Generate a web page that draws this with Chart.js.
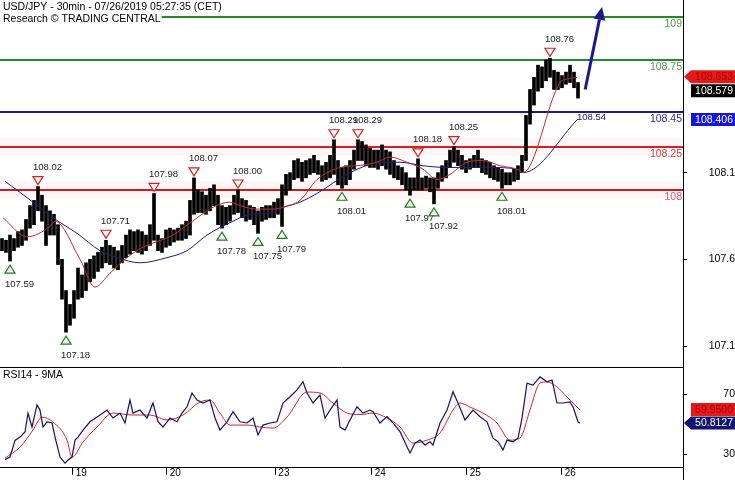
<!DOCTYPE html>
<html><head><meta charset="utf-8">
<script src="https://cdn.jsdelivr.net/npm/chart.js@4.4.0/dist/chart.umd.min.js"></script>
<style>
html,body{margin:0;padding:0;background:#fff;overflow:hidden}
#wrap{position:relative;width:735px;height:480px;background:#fff}
#c1{position:absolute;left:0;top:0}
#c2{position:absolute;left:0;top:367px}
</style></head><body>
<div id="wrap">
<canvas id="c1" width="735" height="367"></canvas>
<canvas id="c2" width="735" height="113"></canvas>
</div>
<script>
const FONT = "'Liberation Sans', Arial, sans-serif";
const titleLine1 = 'USD/JPY - 30min - 07/26/2019 05:27:35 (CET)';
const titleLine2 = 'Research \u00A9 TRADING CENTRAL';
const rsiTitle = 'RSI14 - 9MA';

// price bars (one bar per slot), high / low
const priceHigh = [107.72,107.71,107.74,107.72,107.76,107.77,107.83,107.91,107.94,108.02,
107.97,107.91,107.88,107.86,107.80,107.60,107.42,107.34,107.42,107.55,
107.51,107.58,107.60,107.62,107.64,107.67,107.71,107.68,107.67,107.65,
107.68,107.74,107.77,107.76,107.77,107.76,107.74,107.80,107.98,107.74,
107.72,107.77,107.78,107.77,107.78,107.80,107.82,107.94,108.07,108.00,
107.99,107.97,108.01,108.03,107.97,107.91,107.90,107.91,107.97,108.00,
107.95,107.94,107.91,107.90,107.88,107.90,107.91,107.91,107.93,107.95,
108.03,108.09,108.10,108.17,108.18,108.16,108.17,108.18,108.20,108.17,
108.14,108.16,108.20,108.29,108.17,108.13,108.14,108.17,108.23,108.29,
108.28,108.26,108.24,108.23,108.23,108.26,108.23,108.22,108.17,108.14,
108.13,108.10,108.07,108.07,108.18,108.07,108.08,108.07,108.07,108.10,
108.14,108.17,108.23,108.25,108.23,108.20,108.17,108.18,108.20,108.23,
108.18,108.17,108.16,108.14,108.13,108.12,108.10,108.10,108.12,108.14,
108.20,108.43,108.58,108.65,108.72,108.71,108.75,108.76,108.69,108.68,
108.66,108.68,108.72,108.68,108.62];
const priceLow = [107.65,107.64,107.59,107.65,107.67,107.68,107.71,107.78,107.80,107.88,
107.82,107.68,107.74,107.74,107.57,107.37,107.18,107.22,107.26,107.37,
107.38,107.42,107.47,107.49,107.53,107.55,107.58,107.57,107.55,107.54,
107.58,107.61,107.63,107.65,107.64,107.63,107.65,107.68,107.71,107.65,
107.64,107.67,107.68,107.70,107.71,107.71,107.72,107.74,107.86,107.87,
107.87,107.86,107.88,107.91,107.80,107.78,107.80,107.82,107.86,107.87,
107.84,107.82,107.83,107.80,107.75,107.82,107.83,107.84,107.84,107.86,
107.79,107.97,108.00,108.06,108.07,108.05,108.07,108.09,108.10,108.09,
108.05,108.06,108.07,108.09,108.03,108.01,108.03,108.06,108.12,108.17,
108.17,108.14,108.13,108.13,108.12,108.14,108.12,108.09,108.07,108.06,
108.03,108.00,107.97,108.00,108.00,108.00,108.01,107.99,107.92,108.01,
108.05,108.07,108.13,108.16,108.14,108.12,108.10,108.12,108.13,108.13,
108.10,108.09,108.07,108.06,108.05,108.01,108.03,108.03,108.05,108.06,
108.10,108.17,108.38,108.49,108.57,108.59,108.63,108.65,108.58,108.58,
108.59,108.61,108.62,108.59,108.53];

// moving averages (slot index, value)
const maFastX = [0.25,6.25,12,13.25,19.5,23.25,27,31.25,35.25,42.75,47,52.75,57,59.5,63.75,67.75,70.25,74.5,78.75,84.5,88.75,93.75,97,101.25,105.25,108.75,112,116.25,120.25,124.5,128.75,130.25,139.5,141.25,143.75];
const maFast  = [107.84,107.73,107.79,107.82,107.60,107.44,107.52,107.61,107.67,107.74,107.81,107.90,107.93,107.91,107.89,107.89,107.90,107.94,108.06,108.13,108.14,108.16,108.19,108.16,108.12,108.06,108.09,108.16,108.17,108.14,108.12,108.10,108.62,108.64,108.65];
const maSlowX = [0.75,7.75,12.75,18.75,24.5,28.75,34.5,41.25,46.25,51.25,57.75,62,67.75,70.25,74.5,78.75,87,95.25,99.5,105.25,111.25,122,128.75,130.25,144];
const maSlow  = [108.05,107.93,107.84,107.75,107.65,107.61,107.58,107.61,107.65,107.74,107.82,107.86,107.87,107.90,107.93,107.98,108.10,108.16,108.16,108.14,108.13,108.13,108.12,108.10,108.41];

// RSI 14 and its 9 MA
const rsiX = [0.75,2,3.25,4.5,5.75,6.5,7.5,8.75,9.5,10.25,11.25,12.5,13.25,14.5,15.75,16.5,17.5,18.25,19,20.25,22,24.5,26.25,27.75,29.5,30.75,32,32.75,34.5,36.25,37.75,39,40.25,42,43.75,45,46.25,47.5,48.75,50.25,52,53.25,54.5,56.25,57.75,59.5,61.25,62.75,64,65.25,67,68.75,70.25,72,73.75,75.25,76.25,77.75,79.5,80.75,82,83.75,84.5,85.75,87,88.75,90.25,92,92.75,94.5,96.25,97.75,99.5,101.25,102,103.25,104.5,105.75,107,107.75,109.5,111.25,112.75,114,115.75,117.75,119.5,121.25,122.75,124,125.25,126.25,127.75,129,130,131.25,132.75,134.5,136.25,137.5,138.75,140.25,142,142.75,144,144.5];
const rsi  = [26.5,28.2,39.3,41.5,44.9,57.4,48.2,62.9,59.5,48.2,51.6,50.9,41.5,28.2,24.1,26.2,28.2,39.5,41.5,46.2,51.7,56.2,59.5,54.2,57.5,50.9,66.2,57.5,59.5,54.2,64.2,51.7,48.2,54.2,51.7,57.5,61.7,70.9,66.2,64.2,66.2,54.2,46.2,51.7,58.5,51.7,50.9,54.2,42.9,49.5,50.9,51.7,64.2,68.4,72.9,78.4,70.9,64.2,69.5,54.2,59.5,66.2,48.2,46.2,52.9,61.7,57.5,59.5,58.4,50.9,55.1,50.9,45.1,35.1,30.9,37.5,39.5,36.2,38.4,36.2,50.9,59.5,71.7,64.2,52.9,59.5,55.1,51.7,40.8,38.4,32.9,39.5,38.4,40.8,54.2,77.4,76.1,81.6,78.3,79.5,64.2,64.2,65.0,61.7,51.7,50.8];
const rsiMaX = [0.75,4.5,7.75,10,12.75,16.25,17.5,20.25,23.75,27.75,32.75,37,41.25,45.25,49.5,52,54.5,57,61.25,64.5,67.75,71.25,76.25,79.5,82.75,86.25,89.5,92.75,96.25,99.5,102.75,106.25,109.5,112.75,114.5,117,120.25,123.75,127,129.5,132,134.5,136.25,138.75,141.25,144.5];
const rsiMa  = [27.5,34.8,46.2,54.8,51.5,39.5,28.2,38.2,48.2,57.5,56.2,56.2,52.9,56.2,64.9,66.2,57.5,49.5,49.5,48.2,47.5,54.8,71.5,70.9,64.2,57.5,56.5,57.5,54.2,48.2,37.5,39.5,44.2,59.5,64.2,61.5,57.5,50.9,39.5,40.8,59.5,77.5,78.2,74.9,68.2,59.5];

// horizontal levels
const levels = [109, 108.75, 108.45, 108.25, 108];
const levelLabels = ['109', '108.75', '108.45', '108.25', '108'];
const levelColors = ['#228b22', '#228b22', '#1c1c8c', '#d81e1e', '#c81e1e'];
const levelTextColors = ['#4c9c4c', '#4c9c4c', '#2a2a9a', '#d64040', '#d86070'];
const zoneLevels = [108.25, 108];

// swing markers (slot index, value)
const highMarks = [[9,108.02],[26,107.71],[38,107.98],[48,108.07],[59,108.00],[83,108.29],[89,108.29],[104,108.18],[113,108.25],[137,108.76]];
const lowMarks  = [[2,107.59],[16,107.18],[55,107.78],[64,107.75],[70,107.79],[85,108.01],[102,107.97],[108,107.92],[125,108.01]];

// axes
const dayTickPos = [17.68, 41.18, 68.33, 92.43, 116.18, 139.93];
const dayLabels = ['19', '20', '23', '24', '25', '26'];
const priceTicks = [107.1, 107.6, 108.1];
const rsiTicks = [30, 70];
const X_MIN = -0.5, X_MAX = 170.25;
const P_MIN = 106.979, P_MAX = 109.096;
const R_MIN = 21.1, R_MAX = 88.2;

// last values / tags
const lastPrice = 108.579, fastLast = 108.653, slowLast = 108.406;
const slowEndLabel = '108.54';
const rsiLast = 50.8127, rsiMaLast = 59.95;
const arrowPath = [[145.8, 108.58], [150, 109.056]];

function drawTag(ctx, yc, text, bg, fg, pointer) {
  const h = 13, x0 = 691, x1 = 735;
  ctx.save();
  ctx.fillStyle = bg;
  ctx.beginPath();
  if (pointer) { ctx.moveTo(684, yc); ctx.lineTo(x0, yc - h / 2); }
  else ctx.moveTo(x0, yc - h / 2);
  ctx.lineTo(x1, yc - h / 2); ctx.lineTo(x1, yc + h / 2); ctx.lineTo(x0, yc + h / 2);
  ctx.closePath(); ctx.fill();
  ctx.fillStyle = fg; ctx.font = '10.5px ' + FONT;
  ctx.textAlign = 'right'; ctx.textBaseline = 'middle';
  ctx.fillText(text, 733, yc + 0.5);
  ctx.restore();
}

const pricePlugin = {
  id: 'pricePlugin',
  beforeDatasetsDraw(chart) {
    const {ctx, chartArea: a, scales: {y}} = chart;
    ctx.save();
    ctx.fillStyle = 'rgba(235,70,70,0.05)';
    zoneLevels.forEach(v => {
      const y1 = y.getPixelForValue(v + 0.05), y2 = y.getPixelForValue(v - 0.05);
      ctx.fillRect(a.left, y1, a.right - a.left, y2 - y1);
    });
    levels.forEach((v, k) => {
      const py = Math.round(y.getPixelForValue(v));
      ctx.strokeStyle = levelColors[k]; ctx.lineWidth = 2;
      ctx.beginPath(); ctx.moveTo(a.left, py); ctx.lineTo(a.right, py); ctx.stroke();
    });
    ctx.restore();
  },
  afterDatasetsDraw(chart) {
    const {ctx, chartArea: a, scales: {x, y}} = chart;
    ctx.save();
    // level labels
    ctx.font = '10.5px ' + FONT; ctx.textAlign = 'right'; ctx.textBaseline = 'middle';
    levels.forEach((v, k) => {
      ctx.fillStyle = levelTextColors[k];
      ctx.fillText(levelLabels[k], a.right - 1, y.getPixelForValue(v) + 7.5);
    });
    // markers
    ctx.font = '9.5px ' + FONT; ctx.textAlign = 'left';
    ctx.lineWidth = 1.2;
    highMarks.forEach(([i, v]) => {
      const px = x.getPixelForValue(i), py = y.getPixelForValue(v);
      ctx.beginPath(); ctx.moveTo(px - 5, py - 10); ctx.lineTo(px + 5, py - 10); ctx.lineTo(px, py - 2); ctx.closePath();
      ctx.fillStyle = '#fff'; ctx.fill(); ctx.strokeStyle = '#d42020'; ctx.stroke();
      ctx.fillStyle = '#222'; ctx.fillText(v.toFixed(2), px - 5, py - 19);
    });
    lowMarks.forEach(([i, v]) => {
      const px = x.getPixelForValue(i), py = y.getPixelForValue(v);
      ctx.beginPath(); ctx.moveTo(px - 5, py + 12); ctx.lineTo(px + 5, py + 12); ctx.lineTo(px, py + 4); ctx.closePath();
      ctx.fillStyle = '#fff'; ctx.fill(); ctx.strokeStyle = '#1e7e1e'; ctx.stroke();
      ctx.fillStyle = '#222'; ctx.fillText(v.toFixed(2), px - 5, py + 23);
    });
    // slow MA end label
    ctx.fillStyle = '#1a1a6a';
    ctx.fillText(slowEndLabel, x.getPixelForValue(maSlowX[maSlowX.length - 1]) - 1, y.getPixelForValue(maSlow[maSlow.length - 1]) - 2);
    // arrow
    const x0 = x.getPixelForValue(arrowPath[0][0]), y0 = y.getPixelForValue(arrowPath[0][1]);
    const x1 = x.getPixelForValue(arrowPath[1][0]), y1 = y.getPixelForValue(arrowPath[1][1]);
    const ang = Math.atan2(y1 - y0, x1 - x0), L = 13, W = 6;
    const bx = x1 - L * Math.cos(ang), by = y1 - L * Math.sin(ang);
    ctx.strokeStyle = '#1a1a8c'; ctx.fillStyle = '#1a1a8c'; ctx.lineWidth = 3;
    ctx.beginPath(); ctx.moveTo(x0, y0); ctx.lineTo(bx, by); ctx.stroke();
    ctx.beginPath(); ctx.moveTo(x1, y1);
    ctx.lineTo(bx + W * Math.sin(ang), by - W * Math.cos(ang));
    ctx.lineTo(bx - W * Math.sin(ang), by + W * Math.cos(ang));
    ctx.closePath(); ctx.fill();
    ctx.restore();
  },
  afterDraw(chart) {
    const {ctx, scales: {y}} = chart;
    ctx.save();
    ctx.font = '10.5px ' + FONT; ctx.textAlign = 'left'; ctx.textBaseline = 'middle';
    const w2 = ctx.measureText(titleLine2).width;
    ctx.fillStyle = '#fff'; ctx.fillRect(0, 13, w2 + 4, 13);
    ctx.fillStyle = '#000';
    ctx.fillText(titleLine1, 3, 7);
    ctx.fillText(titleLine2, 3, 19.5);
    ctx.restore();
    // right tags, pushed apart so they do not overlap
    const tags = [
      {v: fastLast, text: fastLast.toFixed(3), bg: '#e41a1a', fg: '#b00000', p: true},
      {v: lastPrice, text: lastPrice.toFixed(3), bg: '#000', fg: '#fff', p: false},
      {v: slowLast, text: slowLast.toFixed(3), bg: '#1414e0', fg: '#fff', p: false}
    ].map(t => ({...t, yc: y.getPixelForValue(t.v)})).sort((a, b) => a.yc - b.yc);
    for (let k = 1; k < tags.length; k++) {
      if (tags[k].yc < tags[k - 1].yc + 14) tags[k].yc = tags[k - 1].yc + 14;
    }
    tags.forEach(t => drawTag(ctx, t.yc, t.text, t.bg, t.fg, t.p));
  }
};

const rsiPlugin = {
  id: 'rsiPlugin',
  afterDraw(chart) {
    const {ctx, chartArea: a, scales: {y}} = chart;
    ctx.save();
    ctx.strokeStyle = '#000'; ctx.lineWidth = 1;
    ctx.beginPath(); ctx.moveTo(0, 0.5); ctx.lineTo(a.right, 0.5); ctx.stroke();
    ctx.beginPath(); ctx.moveTo(a.right + 0.5, a.bottom); ctx.lineTo(a.right + 0.5, chart.height); ctx.stroke();
    ctx.font = '10.5px ' + FONT; ctx.fillStyle = '#000'; ctx.textAlign = 'left'; ctx.textBaseline = 'middle';
    ctx.fillText(rsiTitle, 3, 8.5);
    ctx.restore();
    drawTag(ctx, y.getPixelForValue(rsiMaLast), rsiMaLast.toFixed(4), '#e41a1a', '#b00000', false);
    drawTag(ctx, y.getPixelForValue(rsiLast), rsiLast.toFixed(4), '#14146e', '#fff', true);
  }
};

const tickFont = {family: FONT, size: 10.5};

new Chart(document.getElementById('c1'), {
  type: 'bar',
  data: {
    datasets: [
      {type: 'line', data: maFastX.map((v, k) => ({x: v, y: maFast[k]})), borderColor: '#c42828', borderWidth: 1, pointRadius: 0, cubicInterpolationMode: 'monotone', order: 1},
      {type: 'line', data: maSlowX.map((v, k) => ({x: v, y: maSlow[k]})), borderColor: '#1c1c80', borderWidth: 1, pointRadius: 0, cubicInterpolationMode: 'monotone', order: 1},
      {type: 'bar', data: priceHigh.map((h, k) => ({x: k, y: [priceLow[k], h]})), backgroundColor: '#000', borderWidth: 0, barThickness: 3, order: 3}
    ]
  },
  options: {
    responsive: false, animation: false,
    layout: {padding: 0},
    plugins: {legend: {display: false}, tooltip: {enabled: false}},
    scales: {
      x: {type: 'linear', min: X_MIN, max: X_MAX, offset: false, display: false},
      y: {
        position: 'right', min: P_MIN, max: P_MAX,
        afterBuildTicks(s) { s.ticks = priceTicks.map(v => ({value: v})); },
        afterFit(s) { s.width = 52; s.paddingTop = 0; s.paddingBottom = 0; },
        grid: {drawOnChartArea: false, drawTicks: true, tickLength: 4, color: '#000'},
        border: {display: true, color: '#000', width: 1},
        ticks: {font: tickFont, color: '#000', crossAlign: 'far', padding: 18.7, callback: v => String(v)}
      }
    }
  },
  plugins: [pricePlugin]
});

new Chart(document.getElementById('c2'), {
  type: 'line',
  data: {
    datasets: [
      {data: rsiX.map((v, k) => ({x: v, y: rsi[k]})), borderColor: '#141464', borderWidth: 1.2, pointRadius: 0, tension: 0},
      {data: rsiMaX.map((v, k) => ({x: v, y: rsiMa[k]})), borderColor: '#c83030', borderWidth: 1, pointRadius: 0, cubicInterpolationMode: 'monotone',
       fill: {target: 0, above: 'rgba(240,80,80,0.05)', below: 'rgba(240,80,80,0.05)'}}
    ]
  },
  options: {
    responsive: false, animation: false,
    layout: {padding: 0},
    plugins: {legend: {display: false}, tooltip: {enabled: false}, filler: {propagate: false}},
    scales: {
      x: {
        type: 'linear', min: X_MIN, max: X_MAX, offset: false,
        afterBuildTicks(s) { s.ticks = dayTickPos.map(v => ({value: v})); },
        afterFit(s) { s.height = 12.3; s.paddingLeft = 0; s.paddingRight = 0; },
        grid: {drawOnChartArea: false, drawTicks: true, tickLength: 7, color: '#000'},
        border: {display: true, color: '#000', width: 1},
        ticks: {font: {family: FONT, size: 10}, color: '#000', align: 'start', labelOffset: 3, padding: -7, autoSkip: false, maxRotation: 0,
                callback: (v, idx) => dayLabels[idx]}
      },
      y: {
        position: 'right', min: R_MIN, max: R_MAX,
        afterBuildTicks(s) { s.ticks = rsiTicks.map(v => ({value: v})); },
        afterFit(s) { s.width = 52; s.paddingTop = 0; s.paddingBottom = 0; },
        grid: {drawOnChartArea: false, drawTicks: true, tickLength: 4, color: '#000'},
        border: {display: true, color: '#000', width: 1},
        ticks: {font: tickFont, color: '#000', crossAlign: 'far', padding: 33.3, callback: v => String(v)}
      }
    }
  },
  plugins: [rsiPlugin]
});
</script>
</body></html>
